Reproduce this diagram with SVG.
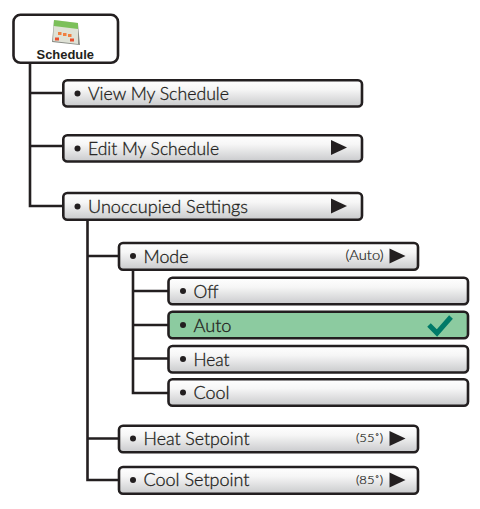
<svg xmlns="http://www.w3.org/2000/svg" width="480" height="509" viewBox="0 0 480 509">
<style>
.b{fill:url(#g);stroke:#231f20;stroke-width:2.6}
.s{fill:#8ccba0;stroke:#231f20;stroke-width:2.6}
.c{fill:none;stroke:#231f20;stroke-width:2.6}
.t{font-family:"Lato","Liberation Sans",sans-serif;font-size:17.500px;font-weight:300;fill:#231f20;stroke:#231f20;stroke-width:.3}
.v{font-family:"Lato","Liberation Sans",sans-serif;font-weight:300;fill:#231f20;stroke:#231f20;stroke-width:.2}
.d{fill:#231f20}
</style>
<defs>
<linearGradient id="g" x1="0" y1="0" x2="0" y2="1"><stop offset="0" stop-color="#fff"/><stop offset="0.35" stop-color="#f6f6f6"/><stop offset="1" stop-color="#c9cacc"/></linearGradient>
<polygon id="a" points="0,-7.500 16,0 0,7.500" fill="#231f20"/>
</defs>
<g id="connectors">
<path class="c" d="M30 63V206H63M30 93H63M30 146H63"/>
<path class="c" d="M87.500 220V480H119M87.500 256H119M87.500 438.500H119"/>
<path class="c" d="M133 270V393H168M133 291H168M133 325H168M133 358.500H168"/>
</g>
<g id="schedule">
<rect x="13.500" y="14.800" width="104.500" height="48" rx="7" fill="#fff" stroke="#231f20" stroke-width="2.600"/>
<polygon points="52,42 54,21 78,24 80,45" fill="#8a8d86"/>
<polygon points="53,41 54,20 78,23 78,44" fill="#dfe2d6"/>
<polygon points="54,20 78,23 78,29 53.700,26" fill="#7cc05a"/>
<rect x="58" y="32" width="3.500" height="3" fill="#f08040"/><rect x="63" y="33" width="3.500" height="3" fill="#f08040"/><rect x="68" y="34" width="3.500" height="3" fill="#f08040"/>
<rect x="55" y="37.500" width="4" height="3" fill="#e85030"/><rect x="70" y="38.500" width="4" height="3" fill="#e85030"/>
<text x="36.500" y="59" textLength="57.500" lengthAdjust="spacingAndGlyphs" style="font-family:'Liberation Sans',sans-serif;font-size:12.500px;font-weight:bold;fill:#231f20">Schedule</text>
</g>
<g id="view"><rect class="b" x="63.300" y="80.200" width="298.700" height="26.300" rx="4"/><circle class="d" cx="77.500" cy="93.500" r="3"/><text class="t" x="88" y="99.500" textLength="141" lengthAdjust="spacingAndGlyphs">View My Schedule</text></g>
<g id="edit"><rect class="b" x="63.300" y="135.200" width="298.700" height="26.300" rx="4"/><circle class="d" cx="77.500" cy="148.500" r="3"/><text class="t" x="88" y="154.500" textLength="131" lengthAdjust="spacingAndGlyphs">Edit My Schedule</text><use href="#a" x="331" y="147.500"/></g>
<g id="unoccupied"><rect class="b" x="63.300" y="193" width="298.700" height="26.800" rx="4"/><circle class="d" cx="77.500" cy="206.500" r="3"/><text class="t" x="88" y="212.500" textLength="160" lengthAdjust="spacingAndGlyphs">Unoccupied Settings</text><use href="#a" x="331" y="206"/></g>
<g id="mode"><rect class="b" x="119" y="243" width="299" height="26.800" rx="4"/><circle class="d" cx="133" cy="256" r="3"/><text class="t" x="143.500" y="262.500" textLength="45" lengthAdjust="spacingAndGlyphs">Mode</text><text class="v" font-size="13" x="345.500" y="260" textLength="38" lengthAdjust="spacingAndGlyphs">(Auto)</text><use href="#a" x="389.500" y="256"/></g>
<g id="off"><rect class="b" x="168.500" y="277.800" width="299.500" height="26.500" rx="4"/><circle class="d" cx="183" cy="291" r="3"/><text class="t" x="193.500" y="297.500" textLength="25" lengthAdjust="spacingAndGlyphs">Off</text></g>
<g id="auto"><rect class="s" x="168.500" y="311.800" width="299.500" height="26.500" rx="4"/><circle class="d" cx="183" cy="325" r="3"/><text class="t" x="193.500" y="331.500" textLength="38" lengthAdjust="spacingAndGlyphs">Auto</text><path d="M429 325L437 333L451 317" fill="none" stroke="#007a68" stroke-width="5"/></g>
<g id="heat"><rect class="b" x="168.500" y="346" width="299.500" height="26.500" rx="4"/><circle class="d" cx="183" cy="359" r="3"/><text class="t" x="193.500" y="365.500" textLength="36" lengthAdjust="spacingAndGlyphs">Heat</text></g>
<g id="cool"><rect class="b" x="168.500" y="379.300" width="299.500" height="26.500" rx="4"/><circle class="d" cx="183" cy="392.500" r="3"/><text class="t" x="193.500" y="399" textLength="36" lengthAdjust="spacingAndGlyphs">Cool</text></g>
<g id="heat-setpoint"><rect class="b" x="119" y="425.800" width="299" height="26.500" rx="4"/><circle class="d" cx="133" cy="438.500" r="3"/><text class="t" x="143.500" y="444.500" textLength="106" lengthAdjust="spacingAndGlyphs">Heat Setpoint</text><text class="v" font-size="11.500" x="356" y="442" textLength="27" lengthAdjust="spacingAndGlyphs">(55˚)</text><use href="#a" x="389.500" y="438.500"/></g>
<g id="cool-setpoint"><rect class="b" x="119" y="467" width="299" height="26.800" rx="4"/><circle class="d" cx="133" cy="480" r="3"/><text class="t" x="143.500" y="486" textLength="106" lengthAdjust="spacingAndGlyphs">Cool Setpoint</text><text class="v" font-size="11.500" x="356" y="483.500" textLength="27" lengthAdjust="spacingAndGlyphs">(85˚)</text><use href="#a" x="389.500" y="480"/></g>
</svg>
